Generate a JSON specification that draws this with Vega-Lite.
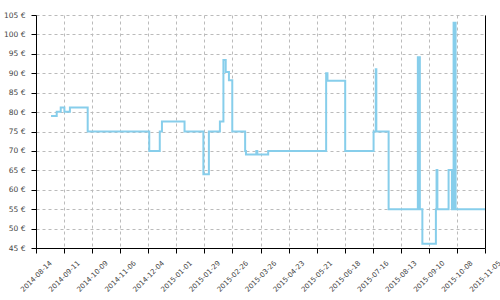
{
  "$schema": "https://vega.github.io/schema/vega-lite/v6.json",
  "width": 449,
  "height": 233,
  "autosize": {"type": "none"},
  "padding": {"left": 36, "top": 15, "right": 15, "bottom": 52},
  "background": "white",
  "config": {
    "view": {"stroke": null},
    "axis": {
      "domainColor": "black",
      "domainWidth": 1,
      "tickColor": "black",
      "tickWidth": 1,
      "tickSize": 5,
      "gridColor": "#bbbbbb",
      "gridDash": [3, 3],
      "gridWidth": 1,
      "labelFont": "DejaVu Sans",
      "labelFontSize": 7.5,
      "labelColor": "#444444",
      "labelOverlap": false,
      "labelBound": false,
      "title": null
    }
  },
  "data": {
    "values": [
      {"date": "2014-08-29T00:00", "price": 79.0},
      {"date": "2014-09-03T16:00", "price": 80.1},
      {"date": "2014-09-07T16:00", "price": 81.2},
      {"date": "2014-09-11T08:00", "price": 80.1},
      {"date": "2014-09-16T20:00", "price": 81.2},
      {"date": "2014-10-04T14:00", "price": 75.0},
      {"date": "2014-12-05T00:00", "price": 70.0},
      {"date": "2014-12-15T12:00", "price": 75.0},
      {"date": "2014-12-17T16:00", "price": 77.6},
      {"date": "2015-01-09T05:00", "price": 75.0},
      {"date": "2015-01-28T00:00", "price": 64.0},
      {"date": "2015-02-02T12:00", "price": 75.0},
      {"date": "2015-02-13T12:00", "price": 77.6},
      {"date": "2015-02-17T00:00", "price": 93.4},
      {"date": "2015-02-19T07:00", "price": 90.3},
      {"date": "2015-02-22T12:00", "price": 88.2},
      {"date": "2015-02-25T20:00", "price": 75.0},
      {"date": "2015-03-10T16:00", "price": 70.0},
      {"date": "2015-03-11T12:00", "price": 69.1},
      {"date": "2015-03-21T20:00", "price": 70.0},
      {"date": "2015-03-22T20:00", "price": 69.1},
      {"date": "2015-04-02T16:00", "price": 70.0},
      {"date": "2015-05-30T12:00", "price": 90.0},
      {"date": "2015-05-31T20:00", "price": 88.1},
      {"date": "2015-06-18T12:00", "price": 70.0},
      {"date": "2015-07-16T20:00", "price": 75.0},
      {"date": "2015-07-19T00:00", "price": 91.0},
      {"date": "2015-07-19T14:00", "price": 75.0},
      {"date": "2015-07-31T20:00", "price": 55.0},
      {"date": "2015-08-30T00:00", "price": 94.1},
      {"date": "2015-09-01T00:00", "price": 55.0},
      {"date": "2015-09-03T12:00", "price": 46.1},
      {"date": "2015-09-17T00:00", "price": 55.0},
      {"date": "2015-09-17T16:00", "price": 65.1},
      {"date": "2015-09-18T12:00", "price": 55.0},
      {"date": "2015-09-29T16:00", "price": 65.1},
      {"date": "2015-10-03T00:00", "price": 55.0},
      {"date": "2015-10-04T16:00", "price": 103.0},
      {"date": "2015-10-06T16:00", "price": 55.0},
      {"date": "2015-11-05T00:00", "price": 55.0}
    ]
  },
  "encoding": {
    "x": {
      "field": "date",
      "type": "temporal",
      "scale": {"domain": [{"year": 2014, "month": 8, "date": 14}, {"year": 2015, "month": 11, "date": 5}]},
      "axis": {
        "values": [
          {"year": 2014, "month": 8, "date": 14},
          {"year": 2014, "month": 9, "date": 11},
          {"year": 2014, "month": 10, "date": 9},
          {"year": 2014, "month": 11, "date": 6},
          {"year": 2014, "month": 12, "date": 4},
          {"year": 2015, "month": 1, "date": 1},
          {"year": 2015, "month": 1, "date": 29},
          {"year": 2015, "month": 2, "date": 26},
          {"year": 2015, "month": 3, "date": 26},
          {"year": 2015, "month": 4, "date": 23},
          {"year": 2015, "month": 5, "date": 21},
          {"year": 2015, "month": 6, "date": 18},
          {"year": 2015, "month": 7, "date": 16},
          {"year": 2015, "month": 8, "date": 13},
          {"year": 2015, "month": 9, "date": 10},
          {"year": 2015, "month": 10, "date": 8},
          {"year": 2015, "month": 11, "date": 5}
        ],
        "format": "%Y-%m-%d",
        "labelAngle": -45,
        "labelAlign": "center",
        "labelBaseline": "middle",
        "labelFontSize": 7,
        "labelPadding": 23,
        "labelDx": -2,
        "labelOverlap": false,
        "labelFlush": false,
        "labelSeparation": 0,
        "grid": true
      }
    },
    "y": {
      "field": "price",
      "type": "quantitative",
      "scale": {"domain": [45, 105], "nice": false, "zero": false},
      "axis": {
        "values": [45, 50, 55, 60, 65, 70, 75, 80, 85, 90, 95, 100, 105],
        "labelExpr": "datum.value + ' €'",
        "labelPadding": 6,
        "labelFlush": false,
        "labelOverlap": false,
        "grid": true
      }
    }
  },
  "layer": [
    {
      "mark": {"type": "line", "interpolate": "step-after", "color": "#87ceeb", "strokeWidth": 2}
    },
    {
      "mark": {"type": "line", "interpolate": "step-after", "opacity": 0},
      "encoding": {
        "y": {
          "field": "price",
          "type": "quantitative",
          "axis": {"orient": "right", "labels": false, "ticks": false, "grid": false, "domain": true}
        }
      }
    }
  ],
  "resolve": {"axis": {"y": "independent"}}
}
